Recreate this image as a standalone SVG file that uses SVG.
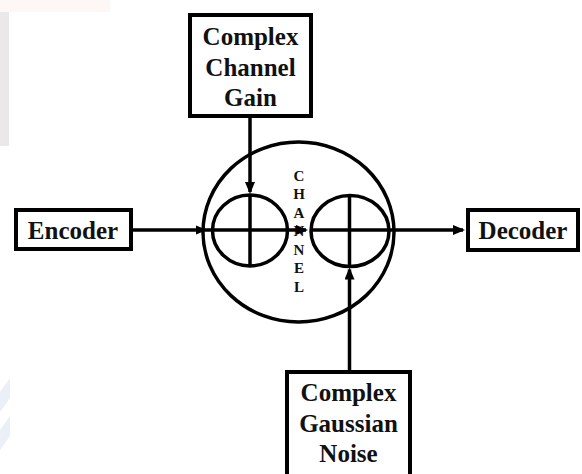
<svg xmlns="http://www.w3.org/2000/svg" width="582" height="474" viewBox="0 0 582 474">
  <style>
    .box { fill: #ffffff; stroke: #000000; stroke-width: 4; }
    .ring { fill: none; stroke: #000000; stroke-width: 3.5; }
    .wire { fill: none; stroke: #000000; stroke-width: 3.5; }
    .label { font-weight: bold; font-size: 25px; fill: #111111; text-anchor: middle; }
    .letter { font-weight: bold; font-size: 15px; fill: #111111; text-anchor: middle; }
  </style>
  <defs>
    <marker id="head" markerUnits="userSpaceOnUse" markerWidth="14" markerHeight="12" refX="10" refY="5" orient="auto">
      <path d="M0,0 L12,5 L0,10 Z" fill="#000000"/>
    </marker>
    <marker id="head-offset" markerUnits="userSpaceOnUse" markerWidth="20" markerHeight="12" refX="17" refY="4.5" orient="auto" overflow="visible">
      <path d="M0,0 L11,4.5 L0,9 Z" fill="#000000"/>
    </marker>
  </defs>

  <!-- faint background marks along the left edge -->
  <g id="backdrop">
    <rect x="0" y="0" width="582" height="474" fill="#ffffff"/>
    <rect x="0" y="0" width="110" height="12" fill="#fdf8f5"/>
    <rect x="0" y="12" width="9" height="134" fill="#ebe8e9"/>
    <polygon points="0,392 10,378 10,398 0,412" fill="#ebeff8"/>
    <polygon points="0,430 10,416 10,436 0,450" fill="#ebeff8"/>
  </g>

  <g font-family="'Liberation Serif', 'Times New Roman', 'DejaVu Serif', serif">
    <!-- channel body -->
    <g id="channel">
      <ellipse class="ring" cx="298.5" cy="232" rx="95.5" ry="90"/>
      <text class="letter" x="299" y="180.5">C</text>
      <text class="letter" x="299" y="199">H</text>
      <text class="letter" x="299" y="217.5">A</text>
      <text class="letter" x="299" y="236">N</text>
      <text class="letter" x="299" y="254.5">N</text>
      <text class="letter" x="299" y="273">E</text>
      <text class="letter" x="299" y="291.5">L</text>
    </g>

    <!-- multiplier stage -->
    <g id="gain-mixer">
      <ellipse class="ring" cx="250" cy="230.5" rx="37.5" ry="35.5"/>
      <line class="wire" x1="212.5" y1="230" x2="287.5" y2="230"/>
      <line class="wire" x1="250" y1="195" x2="250" y2="266"/>
    </g>

    <!-- adder stage -->
    <g id="noise-adder">
      <ellipse class="ring" cx="350" cy="231" rx="39" ry="35.5"/>
      <line class="wire" x1="311" y1="230" x2="389" y2="230"/>
      <line class="wire" x1="349.5" y1="195.5" x2="349.5" y2="266.5"/>
    </g>

    <g id="encoder">
      <rect class="box" x="16" y="210" width="115" height="39"/>
      <text class="label" x="73" y="238.5">Encoder</text>
    </g>

    <g id="decoder">
      <rect class="box" x="468" y="210" width="110" height="40"/>
      <text class="label" x="523" y="238.5">Decoder</text>
    </g>

    <g id="channel-gain">
      <rect class="box" x="190" y="15" width="121" height="101"/>
      <text class="label" x="250.5" y="45">Complex</text>
      <text class="label" x="250.5" y="75.5">Channel</text>
      <text class="label" x="250.5" y="106">Gain</text>
    </g>

    <g id="gaussian-noise">
      <rect class="box" x="287" y="372" width="123" height="112"/>
      <text class="label" x="348.5" y="400.5">Complex</text>
      <text class="label" x="348.5" y="431.5">Gaussian</text>
      <text class="label" x="348.5" y="461.5">Noise</text>
    </g>
  </g>

  <!-- signal path -->
  <g id="connectors">
    <line class="wire" x1="133" y1="230" x2="213" y2="230" marker-end="url(#head-offset)"/>
    <line class="wire" x1="287.5" y1="230" x2="306" y2="230" marker-end="url(#head)"/>
    <line class="wire" x1="389" y1="230" x2="463" y2="230" marker-end="url(#head)"/>
    <line class="wire" x1="250" y1="117" x2="250" y2="192" marker-end="url(#head)"/>
    <line class="wire" x1="349.5" y1="371" x2="349.5" y2="269.5" marker-end="url(#head)"/>
  </g>
</svg>
